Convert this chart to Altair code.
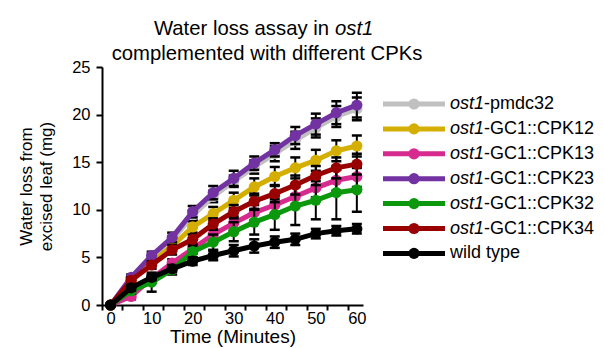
import altair as alt
import pandas as pd

# ---------------- data ----------------
minutes = [0, 5, 10, 15, 20, 25, 30, 35, 40, 45, 50, 55, 60]

series_prefix = ["ost1", "ost1", "ost1", "ost1", "ost1", "ost1", ""]
series_suffix = ["-pmdc32", "-GC1::CPK12", "-GC1::CPK13", "-GC1::CPK23",
                 "-GC1::CPK32", "-GC1::CPK34", "wild type"]
colors = ["#c0c0c0", "#d4ae00", "#d62a8e", "#7232a2", "#0c980c", "#990000", "#000000"]

pmdc32 = [0, 2.7, 4.9, 6.8, 9.4, 11.4, 13.0, 14.5, 15.9, 17.3, 18.6, 19.8, 20.6]
cpk12 = [0, 2.5, 4.5, 6.2, 8.2, 9.6, 11.0, 12.4, 13.5, 14.4, 15.2, 16.2, 16.7]
cpk13 = [0, 0.9, 2.8, 4.4, 5.9, 7.4, 8.6, 9.7, 10.5, 11.4, 12.3, 13.1, 13.5]
cpk23 = [0, 2.9, 5.2, 7.1, 9.8, 11.8, 13.3, 14.9, 16.3, 17.8, 19.0, 20.2, 21.0]
cpk32 = [0, 1.5, 2.4, 3.7, 5.6, 6.6, 7.7, 8.7, 9.5, 10.4, 11.0, 11.8, 12.1]
cpk34 = [0, 2.6, 4.2, 5.8, 6.9, 8.5, 9.8, 10.9, 11.7, 12.6, 13.6, 14.4, 14.8]
wild_type = [0, 1.8, 2.9, 3.8, 4.6, 5.2, 5.7, 6.2, 6.6, 6.9, 7.5, 7.8, 8.0]

sd_pmdc32 = [0, 0.3, 0.3, 0.4, 0.5, 0.6, 0.6, 0.7, 0.8, 0.9, 1.0, 1.1, 1.2]
sd_cpk12 = [0, 0.3, 0.4, 0.5, 0.6, 0.7, 0.8, 0.9, 1.0, 1.1, 1.1, 1.1, 1.1]
sd_cpk13 = [0, 0.3, 0.3, 0.4, 0.5, 0.6, 0.7, 0.8, 0.9, 1.0, 1.0, 1.1, 1.1]
sd_cpk23 = [0, 0.3, 0.4, 0.5, 0.6, 0.7, 0.8, 0.7, 0.7, 0.9, 1.1, 1.2, 1.3]
sd_cpk32 = [0, 0.3, 1.0, 0.5, 0.6, 0.8, 1.0, 1.3, 1.6, 2.0, 2.0, 2.8, 2.3]
sd_cpk34 = [0, 0.3, 0.4, 0.5, 0.5, 0.6, 0.7, 0.8, 0.9, 1.0, 1.0, 1.1, 1.1]
sd_wild_type = [0, 0.3, 0.3, 0.3, 0.4, 0.5, 0.6, 0.7, 0.6, 0.6, 0.5, 0.5, 0.5]

means = [pmdc32, cpk12, cpk13, cpk23, cpk32, cpk34, wild_type]
sds = [sd_pmdc32, sd_cpk12, sd_cpk13, sd_cpk23, sd_cpk32, sd_cpk34, sd_wild_type]

x_ticks = [0, 5, 10, 15, 20, 25, 30, 35, 40, 45, 50, 55, 60]
y_ticks = [0, 5, 10, 15, 20, 25]

title_line1 = "Water loss assay in"
title_line1_italic = "ost1"
title_line2 = "complemented with different CPKs"
x_title = "Time (Minutes)"
y_title = ["Water loss from", "excised leaf (mg)"]

FONT = "Liberation Sans"

# ---------------- main panel ----------------
xscale = alt.Scale(domain=[-2.1, 61.5], nice=False, zero=False)
yscale = alt.Scale(domain=[0, 25], nice=False)

xaxis = alt.Axis(values=x_ticks, labelExpr="datum.value % 10 == 0 ? datum.label : ''",
                 tickOffset=-9, labelOffset=9, tickSize=5, tickWidth=2, domainWidth=2,
                 tickColor="black", domainColor="black", labelColor="black",
                 labelFontSize=16.5, labelPadding=0, labelFlush=False, grid=False,
                 title=x_title, titleFontSize=19, titleFontWeight="normal",
                 titleColor="black", titlePadding=1, labelFont=FONT, titleFont=FONT)
yaxis = alt.Axis(values=y_ticks, tickSize=6, tickWidth=2, domainWidth=2,
                 tickColor="black", domainColor="black", labelColor="black",
                 labelFontSize=16.5, labelPadding=6, labelFlush=False, grid=False,
                 title=y_title, titleFontSize=17, titleFontWeight="normal",
                 titleColor="black", titlePadding=16, titleLineHeight=20,
                 labelFont=FONT, titleFont=FONT)

layers = []
for i in range(len(means)):
    df = pd.DataFrame({
        "minute": minutes,
        "mean": means[i],
        "lo": [m - s for m, s in zip(means[i], sds[i])],
        "hi": [m + s for m, s in zip(means[i], sds[i])],
    })
    X = alt.X("minute:Q", scale=xscale, axis=xaxis)
    base = alt.Chart(df)
    layers.append(base.mark_rule(color="black", strokeWidth=2).encode(
        x=X, y=alt.Y("lo:Q", scale=yscale, axis=yaxis), y2="hi:Q"))
    layers.append(base.mark_tick(orient="horizontal", size=10, thickness=2.5,
                                 color="black", opacity=1).encode(
        x=X, y=alt.Y("lo:Q", scale=yscale, axis=yaxis)))
    layers.append(base.mark_tick(orient="horizontal", size=10, thickness=2.5,
                                 color="black", opacity=1).encode(
        x=X, y=alt.Y("hi:Q", scale=yscale, axis=yaxis)))
    layers.append(base.mark_line(color=colors[i], strokeWidth=5).encode(
        x=X, y=alt.Y("mean:Q", scale=yscale, axis=yaxis)))
    layers.append(base.mark_circle(color=colors[i], size=125, opacity=1).encode(
        x=X, y=alt.Y("mean:Q", scale=yscale, axis=yaxis)))

TFS = 20.3
t1 = alt.Chart(pd.DataFrame({"t": [title_line1]})).mark_text(
    align="right", baseline="middle", fontSize=TFS, font=FONT, color="black"
).encode(text="t:N", x=alt.value(227), y=alt.value(-38))
t1i = alt.Chart(pd.DataFrame({"t": [title_line1_italic]})).mark_text(
    align="left", baseline="middle", fontSize=TFS, font=FONT, fontStyle="italic",
    color="black"
).encode(text="t:N", x=alt.value(233), y=alt.value(-38))
t2 = alt.Chart(pd.DataFrame({"t": [title_line2]})).mark_text(
    align="center", baseline="middle", fontSize=TFS, font=FONT, color="black"
).encode(text="t:N", x=alt.value(165), y=alt.value(-13))

main = alt.layer(*layers, t1, t1i, t2).properties(width=261, height=238)

# ---------------- legend panel ----------------
leg = pd.DataFrame({
    "row": list(range(len(series_suffix))),
    "x0": [0] * len(series_suffix),
    "x1": [1] * len(series_suffix),
    "xm": [0.5] * len(series_suffix),
    "prefix": series_prefix,
    "suffix": series_suffix,
    "color": colors,
})
lx = alt.Scale(domain=[0, 1], nice=False, zero=False)
ly = alt.Scale(domain=[-1.486, 8.072], nice=False, zero=False, reverse=True)
lbase = alt.Chart(leg)
leg_line = lbase.mark_rule(strokeWidth=5).encode(
    x=alt.X("x0:Q", scale=lx, axis=None), x2="x1:Q",
    y=alt.Y("row:Q", scale=ly, axis=None),
    color=alt.Color("color:N", scale=None))
leg_pt = lbase.mark_circle(size=125, opacity=1).encode(
    x=alt.X("xm:Q", scale=lx, axis=None),
    y=alt.Y("row:Q", scale=ly, axis=None),
    color=alt.Color("color:N", scale=None))
leg_it = lbase.mark_text(align="left", baseline="middle", fontSize=18, font=FONT,
                         fontStyle="italic", color="black").encode(
    x=alt.value(67), y=alt.Y("row:Q", scale=ly, axis=None), text="prefix:N"
).transform_filter("datum.prefix != ''")
leg_rest = lbase.mark_text(align="left", baseline="middle", fontSize=18, font=FONT,
                           color="black").encode(
    x=alt.value(101), y=alt.Y("row:Q", scale=ly, axis=None), text="suffix:N"
).transform_filter("datum.prefix != ''")
leg_wt = lbase.mark_text(align="left", baseline="middle", fontSize=18, font=FONT,
                         color="black").encode(
    x=alt.value(67), y=alt.Y("row:Q", scale=ly, axis=None), text="suffix:N"
).transform_filter("datum.prefix == ''")

legend = alt.layer(leg_line, leg_pt, leg_it, leg_rest, leg_wt).properties(width=62, height=238)

chart = alt.hconcat(main, legend, spacing=20, bounds="flush").properties(
    padding={"left": 9, "top": 11, "right": 0, "bottom": 0},
    background="white",
).configure_view(strokeWidth=0)

chart.save("out.html", embed_options={"renderer": "svg", "actions": False})
